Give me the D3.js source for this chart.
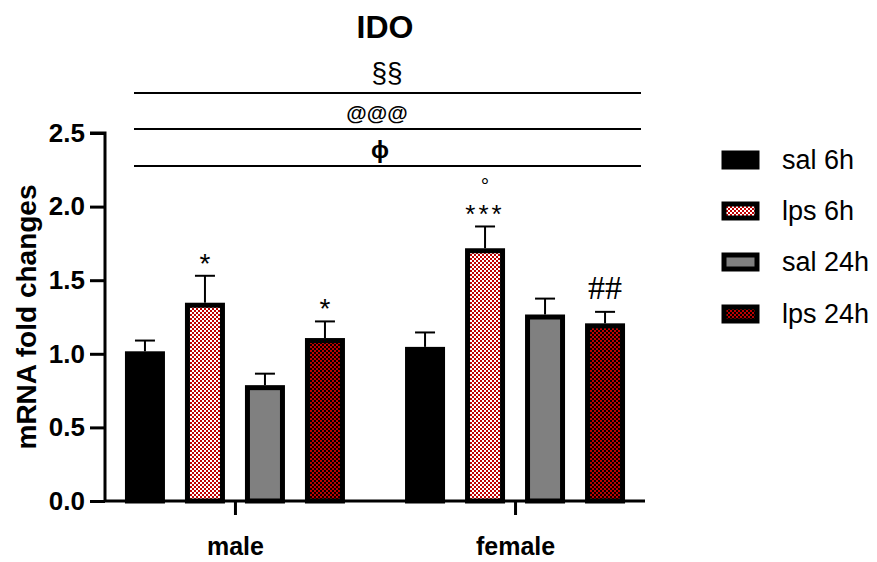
<!DOCTYPE html>
<html>
<head>
<meta charset="utf-8">
<script src="https://cdn.jsdelivr.net/npm/d3@7"></script>
<style>
  html, body { margin: 0; padding: 0; background: #fff; }
  svg { display: block; font-family: "Liberation Sans", Arial, sans-serif; }
</style>
</head>
<body>
<svg id="chart" width="877" height="562"></svg>
<script>
// Groups, treatment series, and per-bar mean / SEM
const groups = ["male", "female"];
const series = ["sal 6h", "lps 6h", "sal 24h", "lps 24h"];
const maleMeans   = [1.00, 1.33, 0.77, 1.09];
const maleSEM     = [0.09, 0.20, 0.095, 0.13];
const femaleMeans = [1.03, 1.70, 1.25, 1.19];
const femaleSEM   = [0.115, 0.165, 0.125, 0.095];
// Significance marks above each bar (empty = none)
const maleMarks   = ["", "*", "", "*"];
const femaleMarks = ["", "***", "", "##"];
const femaleTopMarks = ["", "°", "", ""];
const yTicks = [0, 0.5, 1.0, 1.5, 2.0, 2.5];
// Bracket annotations stacked above the plot
const bracketLabels = ["§§", "@@@", "ϕ"];

const rows = [];
groups.forEach((g, gi) => {
  const means = gi === 0 ? maleMeans : femaleMeans;
  const sems = gi === 0 ? maleSEM : femaleSEM;
  const marks = gi === 0 ? maleMarks : femaleMarks;
  const tops = gi === 0 ? ["", "", "", ""] : femaleTopMarks;
  series.forEach((s, si) => rows.push({group: g, series: s, si, mean: means[si], sem: sems[si], mark: marks[si], top: tops[si]}));
});

const svg = d3.select("#chart");
const defs = svg.append("defs");

function checker(id, c1, c2) {
  const p = defs.append("pattern").attr("id", id).attr("patternUnits", "userSpaceOnUse")
    .attr("width", 4).attr("height", 4);
  p.append("rect").attr("width", 4).attr("height", 4).attr("fill", c2);
  p.append("rect").attr("width", 2).attr("height", 2).attr("fill", c1);
  p.append("rect").attr("x", 2).attr("y", 2).attr("width", 2).attr("height", 2).attr("fill", c1);
}
checker("chkLight", "#bf0000", "#ffffff");
checker("chkDark", "#c00000", "#000000");

const fills = ["#000000", "url(#chkLight)", "#808080", "url(#chkDark)"];

const x0 = 105, x1 = 645, yBase = 501, yTop = 133;
const y = d3.scaleLinear().domain([0, 2.5]).range([yBase, yTop]);
const gx = d3.scalePoint().domain(groups).range([x0, x1]).padding(0.464);
const bx = d3.scaleBand().domain(series).range([-120, 120]).paddingInner(1/3).paddingOuter(1/6);

const sw = 5;

// Bars
svg.append("g").selectAll("rect").data(rows).join("rect")
  .attr("x", d => gx(d.group) + bx(d.series) + sw/2)
  .attr("width", bx.bandwidth() - sw)
  .attr("y", d => y(d.mean))
  .attr("height", d => y(0) - y(d.mean))
  .attr("fill", d => fills[d.si])
  .attr("stroke", "#000").attr("stroke-width", sw);

// Error bars (upper only)
const eb = svg.append("g").attr("stroke", "#000").attr("stroke-width", 2);
rows.forEach(d => {
  const cx = gx(d.group) + bx(d.series) + bx.bandwidth()/2;
  eb.append("line").attr("x1", cx).attr("x2", cx).attr("y1", y(d.mean) - sw/2).attr("y2", y(d.mean + d.sem));
  eb.append("line").attr("x1", cx - 10).attr("x2", cx + 10).attr("y1", y(d.mean + d.sem)).attr("y2", y(d.mean + d.sem));
});

// Significance marks
rows.forEach(d => {
  const cx = gx(d.group) + bx(d.series) + bx.bandwidth()/2;
  const capY = y(d.mean + d.sem);
  if (d.mark.startsWith("*")) {
    const multi = d.mark.length > 1;
    svg.append("text").attr("x", cx).attr("y", capY - 3).attr("text-anchor", "middle")
      .attr("font-size", multi ? 26 : 28).attr("letter-spacing", multi ? 3 : 0).text(d.mark);
  } else if (d.mark) {
    svg.append("text").attr("x", cx).attr("y", capY - 13).attr("text-anchor", "middle")
      .attr("font-family", "Liberation Serif, serif")
      .attr("font-size", 34).text(d.mark);
  }
  if (d.top) {
    svg.append("text").attr("x", cx).attr("y", capY - 33).attr("text-anchor", "middle")
      .attr("font-size", 21).text(d.top);
  }
});

// Axes
const yAxis = d3.axisLeft(y).tickValues(yTicks).tickFormat(d3.format(".1f")).tickSize(15).tickPadding(5);
const ya = svg.append("g").attr("transform", `translate(${x0},0)`).call(yAxis);
ya.select(".domain").attr("stroke-width", 3).attr("d", `M-15,${yTop}H0V${yBase}`);
ya.selectAll(".tick line").attr("stroke-width", 3);
ya.selectAll(".tick text").attr("font-size", 26).attr("font-weight", "bold")
  .attr("font-family", "Liberation Sans, Arial, sans-serif").attr("fill", "#000");

const xAxis = d3.axisBottom(gx).tickSize(14).tickPadding(22);
const xa = svg.append("g").attr("transform", `translate(0,${yBase})`).call(xAxis);
xa.select(".domain").attr("stroke-width", 3).attr("d", `M${x0},0H${x1}`);
xa.selectAll(".tick line").attr("stroke-width", 3);
xa.selectAll(".tick text").attr("font-size", 25).attr("font-weight", "bold")
  .attr("font-family", "Liberation Sans, Arial, sans-serif").attr("fill", "#000");

// Y title
svg.append("text").attr("transform", `translate(36,${(yTop + yBase)/2}) rotate(-90)`)
  .attr("text-anchor", "middle").attr("font-size", 28).attr("font-weight", "bold").text("mRNA fold changes");

// Title
svg.append("text").attr("x", 385).attr("y", 38).attr("text-anchor", "middle")
  .attr("font-size", 32).attr("font-weight", "bold").text("IDO");

// Brackets
const bracketY = [93, 129, 166];
const labelY = [82, 120, 158];
const labelX = [387, 377, 380];
const labelSize = [28, 21, 24];
const labelWeight = ["normal", "bold", "bold"];
bracketLabels.forEach((t, i) => {
  svg.append("line").attr("x1", 134).attr("x2", 641).attr("y1", bracketY[i]).attr("y2", bracketY[i])
    .attr("stroke", "#000").attr("stroke-width", 2);
  svg.append("text").attr("x", labelX[i]).attr("y", labelY[i]).attr("text-anchor", "middle")
    .attr("font-size", labelSize[i]).attr("font-weight", labelWeight[i]).text(t);
});

// Legend
const legY = [160, 211, 262, 314];
const leg = svg.append("g");
series.forEach((s, i) => {
  leg.append("rect").attr("x", 724).attr("y", legY[i] - 7).attr("width", 33).attr("height", 14)
    .attr("fill", fills[i]).attr("stroke", "#000").attr("stroke-width", sw);
  leg.append("text").attr("x", 782).attr("y", legY[i]).attr("dy", "0.35em")
    .attr("font-size", 27).text(s);
});
</script>
</body>
</html>
